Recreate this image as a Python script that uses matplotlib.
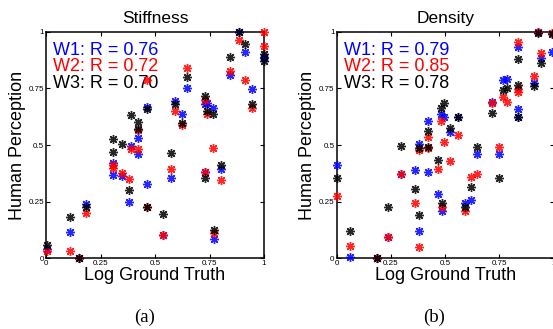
import matplotlib
matplotlib.use("Agg")
import matplotlib.pyplot as plt

plt.rcParams['font.family'] = ['Liberation Sans', 'DejaVu Sans']

# Stiffness: log ground truth and the three workers' perception scores
stiff_x = [0.003, 0.110, 0.150, 0.183, 0.309, 0.309, 0.350, 0.380, 0.390, 0.423,
           0.423, 0.463, 0.463, 0.535, 0.572, 0.594, 0.622, 0.647, 0.731, 0.740,
           0.768, 0.731, 0.769, 0.802, 0.844, 0.885, 0.913, 0.946, 1.000, 1.000]
stiff_w1 = [0.040, 0.118, 0.000, 0.240, 0.420, 0.368, 0.365, 0.250, 0.497, 0.531,
            0.460, 0.669, 0.326, 0.103, 0.356, 0.692, 0.637, 0.751, 0.680, 0.685,
            0.665, 0.380, 0.085, 0.393, 0.809, 1.000, 0.912, 0.749, 0.890, 0.882]
stiff_w2 = [0.034, 0.034, 0.000, 0.200, 0.410, 0.397, 0.375, 0.350, 0.484, 0.565,
            0.484, 0.787, 0.228, 0.103, 0.394, 0.649, 0.588, 0.840, 0.699, 0.636,
            0.488, 0.380, 0.110, 0.346, 0.828, 0.963, 0.788, 0.662, 1.000, 0.935]
stiff_w3 = [0.059, 0.184, 0.000, 0.228, 0.525, 0.470, 0.503, 0.300, 0.632, 0.603,
            0.570, 0.660, 0.228, 0.194, 0.465, 0.683, 0.596, 0.799, 0.717, 0.650,
            0.636, 0.353, 0.125, 0.412, 0.887, 1.000, 0.946, 0.681, 0.903, 0.871]
stiff_r = ['0.76', '0.72', '0.70']

# Density
dens_x = [0.000, 0.061, 0.187, 0.238, 0.296, 0.361, 0.381, 0.381, 0.420, 0.423,
          0.467, 0.481, 0.484, 0.496, 0.522, 0.558, 0.591, 0.619, 0.648, 0.717,
          0.749, 0.768, 0.786, 0.836, 0.834, 0.834, 0.909, 0.926, 0.941, 0.994]
dens_w1 = [0.412, 0.004, 0.000, 0.093, 0.372, 0.388, 0.506, 0.121, 0.606, 0.380,
           0.282, 0.637, 0.209, 0.625, 0.559, 0.625, 0.245, 0.257, 0.460, 0.690,
           0.460, 0.785, 0.793, 0.934, 0.658, 0.622, 0.772, 1.000, 0.883, 0.912]
dens_w2 = [0.275, 0.056, 0.000, 0.093, 0.372, 0.243, 0.478, 0.049, 0.537, 0.485,
           0.393, 0.606, 0.228, 0.515, 0.431, 0.544, 0.210, 0.357, 0.372, 0.684,
           0.490, 0.712, 0.690, 0.956, 0.746, 0.734, 0.804, 1.000, 0.905, 0.993]
dens_w3 = [0.353, 0.122, 0.000, 0.225, 0.497, 0.304, 0.487, 0.191, 0.563, 0.490,
           0.434, 0.662, 0.243, 0.684, 0.574, 0.625, 0.228, 0.315, 0.490, 0.640,
           0.356, 0.743, 0.752, 0.878, 0.765, 0.622, 0.760, 0.995, 0.861, 0.990]
dens_r = ['0.79', '0.85', '0.78']

ticks = [0, 0.25, 0.5, 0.75, 1]
tick_labels = ['0', '0.25', '0.5', '0.75', '1']
colors = ['#0000ff', '#ff0000', '#000000']
star = (8, 2, 0)

W, H = 553, 329
fig = plt.figure(figsize=(W / 100, H / 100), dpi=100)
ax1 = fig.add_axes([46 / W, (H - 258.3) / H, 218 / W, 226.6 / H])
ax2 = fig.add_axes([336.7 / W, (H - 258.3) / H, 217 / W, 226.6 / H])


def draw(ax, x, series, rvals, title):
    for ys, c in zip(series, colors):
        ax.plot(x, ys, linestyle='none', marker=star, ms=6.5, mew=1.0,
                color=c, alpha=0.85, clip_on=False, zorder=4)
    for i, (rv, c) in enumerate(zip(rvals, colors)):
        ax.text(0.032, 0.897 - i * 0.072, 'W%d: R = %s' % (i + 1, rv),
                color=c, fontsize=13, transform=ax.transAxes, zorder=3)
    ax.set_xlim(0, 1)
    ax.set_ylim(0, 1)
    ax.set_xticks(ticks)
    ax.set_xticklabels(tick_labels)
    ax.set_yticks(ticks)
    ax.set_yticklabels(tick_labels)
    ax.tick_params(direction='in', top=True, right=True, length=3, width=0.8,
                   labelsize=5.8, pad=1.5)
    for s in ax.spines.values():
        s.set_linewidth(1.1)
    ax.set_title(title, fontsize=12.5, pad=6)
    ax.set_xlabel('Log Ground Truth', fontsize=13, labelpad=0)
    ax.set_ylabel('Human Perception', fontsize=13, labelpad=2)


draw(ax1, stiff_x, [stiff_w1, stiff_w2, stiff_w3], stiff_r, 'Stiffness')
draw(ax2, dens_x, [dens_w1, dens_w2, dens_w3], dens_r, 'Density')

fig.text(145 / W, 1 - 317 / H, '(a)', family=['Liberation Serif', 'DejaVu Serif'],
         fontsize=13.5, ha='center', va='center')
fig.text(434 / W, 1 - 317 / H, '(b)', family=['Liberation Serif', 'DejaVu Serif'],
         fontsize=13.5, ha='center', va='center')

fig.savefig('out.png', dpi=100)
